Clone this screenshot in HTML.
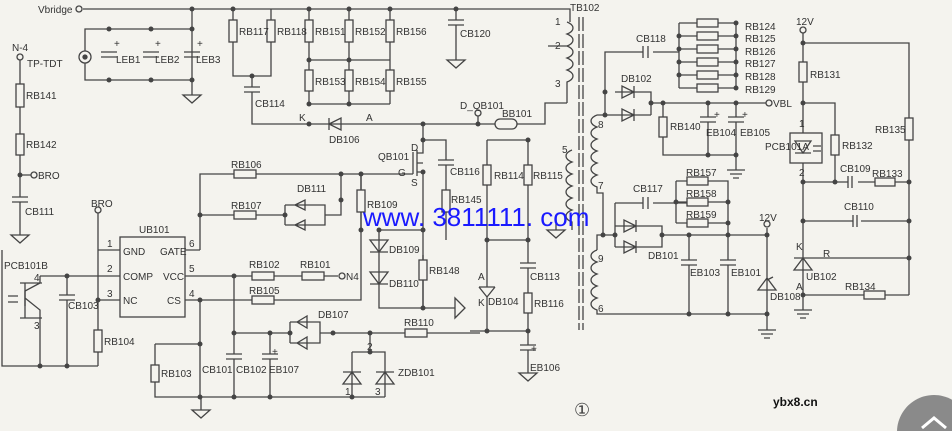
<!DOCTYPE html><html><head><meta charset="utf-8"><style>
html,body{margin:0;width:952px;height:431px;overflow:hidden;background:#f4f3ee}
svg{display:block;overflow:hidden}
text{font-family:"Liberation Sans",sans-serif;font-size:10px;fill:#333}
</style></head><body>
<svg width="952" height="431" viewBox="0 0 952 431" xmlns="http://www.w3.org/2000/svg">
<rect width="952" height="431" fill="#f4f3ee"/>
<g stroke="#444" stroke-width="1.3" fill="none">
<path d="M83 9H570V22"/>
<circle cx="79" cy="9" r="3"/>
<path d="M85 29H192V80H85Z"/>
<circle cx="85" cy="57" r="6" fill="#f4f3ee"/><circle cx="85" cy="57" r="2" fill="#444"/>
<path d="M192 9V29M192 80V95M183 95h18l-9 8z"/>
<path d="M101 52h16M101 57h16M143 52h16M143 57h16M184 52h16M184 57h16"/>
<path d="M233 9V76H271V9M252 76V87M244 87h16M244 92h16M252 92V124H309"/>
<path d="M309 9V104M349 9V104M390 9V104M309 60H390M309 104H390"/>
<path d="M456 9V20M448 20h16M448 25h16M456 25V60M447 60h18l-9 8z"/>
<path d="M309 124H478M329 118v12M329 124l12-6v12z"/>
<circle cx="478" cy="113" r="3"/>
<path d="M478 116V124H495M517 124H545V103H567"/>
<rect x="495" y="119" width="22" height="10" rx="5"/>
<path d="M567 22c8 3 8 9 0 12c8 3 8 9 0 12c8 3 8 9 0 12c8 3 8 9 0 12c8 3 8 9 0 12 V103M548 46H567"/>
<path d="M579 17V330M583 17V330" stroke-dasharray="14 3"/>
<path d="M423 124V150M423 140H446V160M438 160h16M438 165h16M446 165V190M446 212V240"/>
<path d="M413 152V174M417 150V176M417 153H423V150M417 163H423M417 172H423V175M405 174H413"/>
<path d="M423 175V308M379 230H423M361 174V190M361 212V230M379 230V308H455M455 298v20l10-10z"/>
<path d="M423 255V260M423 280V308"/>
<path d="M370 240h18l-9 12zM370 252h18M370 272h18l-9 12zM370 284h18"/>
<path d="M200 250V174H234M256 174H405M341 174V215H325M200 215H234M256 215H285"/>
<path d="M285 205V225M285 205H325V225H285M295 205l10-5v10zM295 225l10-5v10zM305 200v10M305 220v10"/>
<rect x="120" y="237" width="65" height="80"/>
<path d="M98 213V366M98 250H120M2 250V366H98M40 276H120M98 300H120M67 276V295M59 295h16M59 300h16M67 300V366"/>
<path d="M185 250H200M185 276H252M274 276H302M324 276H338M185 300H252M274 300H361V174"/>
<path d="M40 283V276M20 283h22M40 283l-15 8V306M25 298l15 12V366"/>
<path d="M25 283V318M20 318h22M8 296h10M8 302h10"/>
<circle cx="342" cy="276" r="3"/>
<path d="M200 300V397M155 344H200M155 344V365M155 382V397H385M234 276V354M226 354h16M226 359h16M234 359V397M270 333V354M262 354h16M262 359h16M270 359V397"/>
<path d="M234 333H290M290 322V343M290 322H320V343H290M297 322l10-6v12zM297 343l10-6v12zM320 333H405M427 333H480"/>
<path d="M370 333V352M352 352H385V397M352 352V397M343 372h18M352 372l-9 12h18z M376 372h18M385 372l-9 12h18z"/>
<path d="M192 410h18l-9 8zM201 397V410"/>
<circle cx="20" cy="57" r="3"/>
<path d="M20 60V84M20 107V134M20 155V197M20 175H31M12 197h16M12 202h16M20 202V235M11 235h18l-9 8z"/>
<circle cx="34" cy="175" r="3"/><circle cx="98" cy="210" r="3"/>
<path d="M487 140H528V165M487 140V165M487 185V287M528 185V263M487 240H528M479 287h16M479 287l8 10 8-10M487 297V331M520 263h16M520 268h16M528 268V293M528 313V345M470 331H528M520 345h16M520 350h16M528 350V373M519 373h18l-9 8z"/>
<path d="M572 150c-8 3-8 9 0 12c-8 3-8 9 0 12c-8 3-8 9 0 12c-8 3-8 9 0 12c-8 3-8 9 0 12c-8 3-8 9 0 12 V230M547 230h18l-9 8zM556 215V230"/>
<path d="M597 115c-8 3-8 9 0 12c-8 3-8 9 0 12c-8 3-8 9 0 12c-8 3-8 9 0 12c-8 3-8 9 0 12c-8 3-8 9 0 12V193H603V235"/>
<path d="M597 250c-8 3-8 9 0 12c-8 3-8 9 0 12c-8 3-8 9 0 12c-8 3-8 9 0 12c-8 3-8 9 0 12V314H767"/>
<path d="M597 250V235H615"/>
<path d="M597 115H651M605 115V52H643M653 52H679M643 46v12M648 46v12M615 92H651V115M622 86v12l12-6zM634 86v12M622 109v12l12-6zM634 109v12M651 103H736M663 103V117M663 137V155H736M708 103V117M700 117h16M700 122h16M708 122V155M736 103V117M728 117h16M728 122h16M736 122V170M727 170h18M730 174h12M733 178h6"/>
<path d="M679 23V88M736 23V88M679 23h18M718 23h18M679 36h18M718 36h18M679 49h18M718 49h18M679 62h18M718 62h18M679 75h18M718 75h18M679 88h18M718 88h18M736 103h30"/>
<circle cx="769" cy="103" r="3"/>
<path d="M615 203H643M653 203H687M643 197v12M648 197v12M615 203V247M615 226H662V247H615M624 220v12l12-6zM636 220v12M624 241v12l12-6zM636 241v12M662 235H767M676 181V223M676 181H687M708 181H728V235M676 202h11M708 202h20M676 223h11M708 223h20"/>
<path d="M689 235V260M681 260h16M681 265h16M689 265V314M728 235V260M720 260h16M720 265h16M728 265V314M767 228V314M758 290h18M767 278l-9 12h18zM767 280l6-3"/>
<circle cx="767" cy="224" r="3"/>
<path d="M758 330h18M761 334h12M764 338h6M767 314V330"/>
<circle cx="803" cy="30" r="3"/>
<path d="M803 33V62M803 43H909V118M909 140V295M803 82V133M803 103H835V135M835 155V182M803 163V310M803 182H848M858 182H875M895 182H909M848 176v12M852 176v12M803 221H853M861 221H909M853 215v12M857 215v12M812 258H909M803 295H864M885 295H909M794 310h18M797 314h12M800 318h6"/>
<rect x="790" y="133" width="32" height="30"/>
<path d="M795 141h16M803 153l-8-12h16zM795 153h16M813 146h8M813 151h8"/>
<path d="M794 258h18M803 258l-9 12h18z"/>
</g>
<g fill="#f4f3ee" stroke="#444" stroke-width="1.3">
<rect x="229" y="20" width="8" height="22"/><rect x="267" y="20" width="8" height="22"/>
<rect x="305" y="20" width="8" height="22"/><rect x="345" y="20" width="8" height="22"/><rect x="386" y="20" width="8" height="22"/>
<rect x="305" y="70" width="8" height="21"/><rect x="345" y="70" width="8" height="21"/><rect x="386" y="70" width="8" height="21"/>
<rect x="16" y="84" width="8" height="23"/><rect x="16" y="134" width="8" height="21"/>
<rect x="234" y="170" width="22" height="8"/><rect x="234" y="211" width="22" height="8"/>
<rect x="357" y="190" width="8" height="22"/><rect x="442" y="190" width="8" height="22"/><rect x="419" y="260" width="8" height="20"/>
<rect x="252" y="272" width="22" height="8"/><rect x="302" y="272" width="22" height="8"/><rect x="252" y="296" width="22" height="8"/>
<rect x="94" y="330" width="8" height="22"/><rect x="151" y="365" width="8" height="17"/><rect x="405" y="329" width="22" height="8"/>
<rect x="483" y="165" width="8" height="20"/><rect x="524" y="165" width="8" height="20"/><rect x="524" y="293" width="8" height="20"/>
<rect x="697" y="19" width="21" height="8"/><rect x="697" y="32" width="21" height="8"/><rect x="697" y="45" width="21" height="8"/>
<rect x="697" y="58" width="21" height="8"/><rect x="697" y="71" width="21" height="8"/><rect x="697" y="84" width="21" height="8"/>
<rect x="659" y="117" width="8" height="20"/>
<rect x="687" y="177" width="21" height="8"/><rect x="687" y="198" width="21" height="8"/><rect x="687" y="219" width="21" height="8"/>
<rect x="799" y="62" width="8" height="20"/><rect x="831" y="135" width="8" height="20"/><rect x="905" y="118" width="8" height="22"/>
<rect x="875" y="178" width="20" height="8"/><rect x="864" y="291" width="21" height="8"/>
</g>
<g fill="#444">
<circle cx="192" cy="9" r="2.5"/><circle cx="233" cy="9" r="2.5"/><circle cx="309" cy="9" r="2.5"/><circle cx="349" cy="9" r="2.5"/><circle cx="390" cy="9" r="2.5"/><circle cx="456" cy="9" r="2.5"/>
<circle cx="109" cy="29" r="2.5"/><circle cx="151" cy="29" r="2.5"/><circle cx="192" cy="29" r="2.5"/><circle cx="109" cy="80" r="2.5"/><circle cx="151" cy="80" r="2.5"/><circle cx="192" cy="80" r="2.5"/>
<circle cx="252" cy="76" r="2.5"/><circle cx="309" cy="60" r="2.5"/><circle cx="349" cy="60" r="2.5"/><circle cx="309" cy="104" r="2.5"/><circle cx="349" cy="104" r="2.5"/>
<circle cx="309" cy="124" r="2.5"/><circle cx="423" cy="124" r="2.5"/><circle cx="478" cy="124" r="2.5"/><circle cx="423" cy="140" r="2.5"/><circle cx="423" cy="172" r="2.5"/>
<circle cx="341" cy="174" r="2.5"/><circle cx="361" cy="174" r="2.5"/><circle cx="341" cy="200" r="2.5"/><circle cx="200" cy="215" r="2.5"/><circle cx="285" cy="215" r="2.5"/>
<circle cx="361" cy="230" r="2.5"/><circle cx="379" cy="230" r="2.5"/><circle cx="423" cy="230" r="2.5"/><circle cx="423" cy="308" r="2.5"/>
<circle cx="20" cy="175" r="2.5"/><circle cx="67" cy="276" r="2.5"/><circle cx="98" cy="300" r="2.5"/><circle cx="40" cy="366" r="2.5"/><circle cx="67" cy="366" r="2.5"/>
<circle cx="234" cy="276" r="2.5"/><circle cx="200" cy="300" r="2.5"/><circle cx="200" cy="344" r="2.5"/><circle cx="234" cy="333" r="2.5"/><circle cx="270" cy="333" r="2.5"/><circle cx="290" cy="333" r="2.5"/><circle cx="333" cy="333" r="2.5"/><circle cx="370" cy="333" r="2.5"/>
<circle cx="200" cy="397" r="2.5"/><circle cx="234" cy="397" r="2.5"/><circle cx="270" cy="397" r="2.5"/><circle cx="352" cy="397" r="2.5"/><circle cx="370" cy="352" r="2.5"/>
<circle cx="487" cy="240" r="2.5"/><circle cx="528" cy="240" r="2.5"/><circle cx="528" cy="140" r="2.5"/><circle cx="487" cy="331" r="2.5"/><circle cx="528" cy="331" r="2.5"/>
<circle cx="605" cy="92" r="2.5"/><circle cx="605" cy="115" r="2.5"/><circle cx="651" cy="103" r="2.5"/><circle cx="663" cy="103" r="2.5"/><circle cx="708" cy="103" r="2.5"/><circle cx="736" cy="103" r="2.5"/><circle cx="708" cy="155" r="2.5"/><circle cx="736" cy="155" r="2.5"/>
<circle cx="679" cy="36" r="2.5"/><circle cx="679" cy="49" r="2.5"/><circle cx="679" cy="62" r="2.5"/><circle cx="679" cy="75" r="2.5"/><circle cx="736" cy="23" r="2.5"/><circle cx="736" cy="36" r="2.5"/><circle cx="736" cy="49" r="2.5"/><circle cx="736" cy="62" r="2.5"/><circle cx="736" cy="75" r="2.5"/><circle cx="736" cy="88" r="2.5"/>
<circle cx="603" cy="235" r="2.5"/><circle cx="615" cy="235" r="2.5"/><circle cx="662" cy="235" r="2.5"/><circle cx="676" cy="202" r="2.5"/><circle cx="728" cy="202" r="2.5"/><circle cx="728" cy="223" r="2.5"/><circle cx="728" cy="235" r="2.5"/><circle cx="689" cy="235" r="2.5"/><circle cx="767" cy="235" r="2.5"/>
<circle cx="689" cy="314" r="2.5"/><circle cx="728" cy="314" r="2.5"/><circle cx="767" cy="314" r="2.5"/>
<circle cx="803" cy="43" r="2.5"/><circle cx="803" cy="103" r="2.5"/><circle cx="803" cy="182" r="2.5"/><circle cx="835" cy="182" r="2.5"/><circle cx="909" cy="182" r="2.5"/><circle cx="803" cy="221" r="2.5"/><circle cx="909" cy="221" r="2.5"/><circle cx="909" cy="258" r="2.5"/><circle cx="803" cy="295" r="2.5"/>
</g>
<text x="38" y="13">Vbridge</text>
<text x="116" y="63">LEB1</text><text x="155" y="63">LEB2</text><text x="196" y="63">LEB3</text>
<text x="114" y="47">+</text><text x="155" y="47">+</text><text x="197" y="47">+</text>
<text x="239" y="35">RB117</text><text x="277" y="35">RB118</text><text x="315" y="35">RB151</text><text x="355" y="35">RB152</text><text x="396" y="35">RB156</text>
<text x="315" y="85">RB153</text><text x="355" y="85">RB154</text><text x="396" y="85">RB155</text>
<text x="460" y="37">CB120</text><text x="255" y="107">CB114</text>
<text x="299" y="121">K</text><text x="366" y="121">A</text><text x="329" y="143">DB106</text>
<text x="460" y="109">D_QB101</text><text x="502" y="117">BB101</text>
<text x="12" y="51">N-4</text><text x="27" y="67">TP-TDT</text><text x="26" y="99">RB141</text><text x="26" y="148">RB142</text>
<text x="38" y="179">BRO</text><text x="25" y="215">CB111</text><text x="91" y="207">BRO</text>
<text x="378" y="160">QB101</text><text x="411" y="151">D</text><text x="398" y="176">G</text><text x="411" y="186">S</text>
<text x="450" y="175">CB116</text><text x="451" y="203">RB145</text>
<text x="231" y="168">RB106</text><text x="231" y="209">RB107</text><text x="297" y="192">DB111</text><text x="367" y="208">RB109</text>
<text x="389" y="253">DB109</text><text x="389" y="287">DB110</text><text x="429" y="274">RB148</text>
<text x="139" y="233">UB101</text>
<text x="123" y="255">GND</text><text x="123" y="280">COMP</text><text x="123" y="304">NC</text>
<text x="160" y="255">GATE</text><text x="163" y="280">VCC</text><text x="167" y="304">CS</text>
<text x="107" y="247">1</text><text x="107" y="272">2</text><text x="107" y="297">3</text><text x="189" y="247">6</text><text x="189" y="272">5</text><text x="189" y="297">4</text>
<text x="4" y="269">PCB101B</text><text x="34" y="281">4</text><text x="34" y="329">3</text>
<text x="68" y="309">CB103</text><text x="104" y="345">RB104</text><text x="161" y="377">RB103</text>
<text x="249" y="268">RB102</text><text x="300" y="268">RB101</text><text x="346" y="280">N4</text><text x="249" y="294">RB105</text>
<text x="202" y="373">CB101</text><text x="236" y="373">CB102</text><text x="269" y="373">EB107</text><text x="272" y="355">+</text>
<text x="318" y="318">DB107</text><text x="404" y="326">RB110</text><text x="367" y="350">2</text>
<text x="398" y="376">ZDB101</text><text x="345" y="395">1</text><text x="375" y="395">3</text>
<text x="494" y="179">RB114</text><text x="533" y="179">RB115</text><text x="478" y="280">A</text><text x="478" y="306">K</text><text x="488" y="305">DB104</text>
<text x="530" y="280">CB113</text><text x="534" y="307">RB116</text><text x="530" y="371">EB106</text><text x="531" y="352">+</text>
<text x="570" y="11">TB102</text><text x="555" y="25">1</text><text x="555" y="49">2</text><text x="555" y="87">3</text>
<text x="562" y="153">5</text><text x="598" y="128">8</text><text x="598" y="189">7</text><text x="598" y="262">9</text><text x="598" y="312">6</text>
<text x="636" y="42">CB118</text><text x="621" y="82">DB102</text>
<text x="745" y="30">RB124</text><text x="745" y="42">RB125</text><text x="745" y="55">RB126</text><text x="745" y="67">RB127</text><text x="745" y="80">RB128</text><text x="745" y="93">RB129</text>
<text x="773" y="107">VBL</text><text x="670" y="130">RB140</text><text x="706" y="136">EB104</text><text x="740" y="136">EB105</text>
<text x="714" y="118">+</text><text x="742" y="118">+</text>
<text x="686" y="176">RB157</text><text x="686" y="197">RB158</text><text x="686" y="218">RB159</text><text x="633" y="192">CB117</text>
<text x="648" y="259">DB101</text><text x="690" y="276">EB103</text><text x="731" y="276">EB101</text><text x="759" y="221">12V</text><text x="770" y="300">DB108</text>
<text x="796" y="25">12V</text><text x="810" y="78">RB131</text><text x="799" y="127">1</text><text x="765" y="150">PCB101A</text><text x="842" y="149">RB132</text>
<text x="799" y="176">2</text><text x="840" y="172">CB109</text><text x="872" y="177">RB133</text><text x="875" y="133">RB135</text><text x="844" y="210">CB110</text>
<text x="796" y="250">K</text><text x="823" y="257">R</text><text x="806" y="280">UB102</text><text x="796" y="290">A</text><text x="845" y="290">RB134</text>
<text x="773" y="406" style="font-size:12px;font-weight:bold;fill:#111">ybx8.cn</text>
<text x="574" y="416" style="font-size:18px;fill:#444">①</text>
<text x="363" y="226" style="font-size:26px;fill:#1a1aff">www. 3811111. com</text>
<path d="M897 431A37 37 0 0 1 952 399.7V431Z" fill="#8a8a8a"/>
<path d="M922 428l12-10 12 10" stroke="#fff" stroke-width="3" fill="none"/>
</svg>
</body></html>
